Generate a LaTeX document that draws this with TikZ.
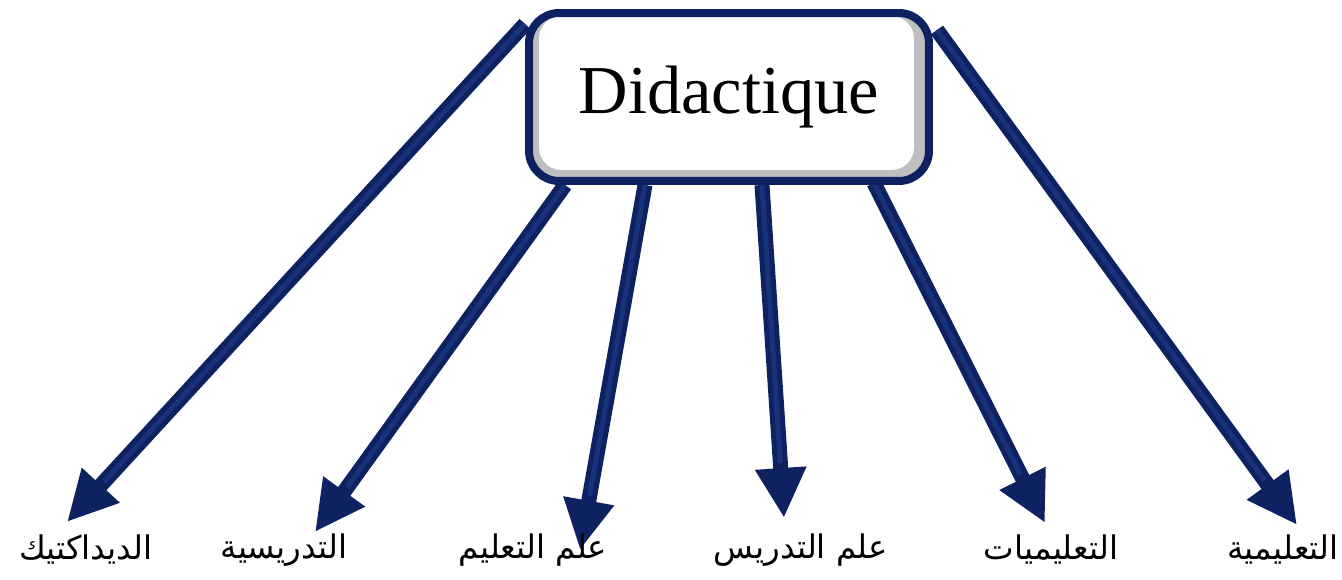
\documentclass[tikz,border=0pt]{standalone}
\usepackage{fontspec}
\setmainfont{Liberation Serif}
\newfontfamily\arabicfont[Script=Arabic]{DejaVu Sans}
\TeXXeTstate=1
\usepackage{tikz}
\usetikzlibrary{arrows.meta,backgrounds}
\definecolor{navy}{RGB}{14,34,98}
\definecolor{navylight}{RGB}{26,50,122}

\begin{document}
\begin{tikzpicture}[x=0.02cm,y=-0.02cm,
  box/.style={draw=navy,line width=0.16cm,rounded corners=0.6cm,fill=gray!50,
    minimum width=8cm,minimum height=3.36cm,font=\fontsize{39}{44}\selectfont,
    path picture={\fill[white,rounded corners=0.45cm]
      ([xshift=0.2cm,yshift=-0.06cm]path picture bounding box.north west) rectangle
      ([xshift=-0.3cm,yshift=0.22cm]path picture bounding box.south east);}},
  lbl/.style={font=\arabicfont\fontsize{18.5}{22}\selectfont,inner sep=0pt},
  link/.style={navy,line width=0.3cm,-{Triangle[length=1.0cm,width=0.96cm]},
    postaction={draw=navylight,line width=0.1cm,-,shorten >=1.1cm}}]
 \useasboundingbox (0,0) rectangle (1342,580);
%  central box
 \node[box] (did) at (729,97) {Didactique};
%  labels
 \node[lbl] (lDidactik) at (86,550) {\beginR الديداكتيك\endR};
 \node[lbl] (lTadrisiya) at (284,550) {\beginR التدريسية\endR};
 \node[lbl] (lIlmTaalim) at (533,550) {\beginR علم التعليم\endR};
 \node[lbl] (lIlmTadris) at (801,550) {\beginR علم التدريس\endR};
 \node[lbl] (lTaalimiyat) at (1051,550) {\beginR التعليميات\endR};
 \node[lbl] (lTaalimiya) at (1283,550) {\beginR التعليمية\endR};
%  start points on the box
 \coordinate (s1) at ([yshift=-0.3cm]did.north west);
 \coordinate (s2) at ([xshift=-3.28cm]did.south);
 \coordinate (s3) at ([xshift=-1.68cm]did.south);
 \coordinate (s4) at ([xshift=0.66cm]did.south);
 \coordinate (s5) at ([xshift=2.9cm,yshift=0.04cm]did.south);
 \coordinate (s6) at ([xshift=0.08cm,yshift=-0.42cm]did.north east);
%  arrow tips
 \coordinate (t1) at (67,522);
 \coordinate (t2) at (315,532);
 \coordinate (t3) at (580,550);
 \coordinate (t4) at (784,518);
 \coordinate (t5) at (1045,523);
 \coordinate (t6) at (1297,525);
%  arrows
 \begin{scope}[on background layer]
  \foreach \i in {1,...,6}
   \draw[link] (s\i) -- (t\i);
 \end{scope}
\end{tikzpicture}
\end{document}
